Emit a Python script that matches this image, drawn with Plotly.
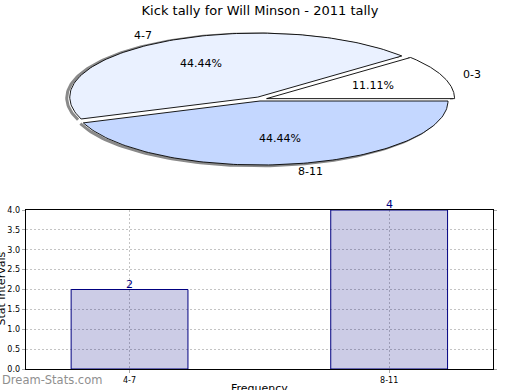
import numpy as np
import plotly.graph_objects as go

# ---- data ----
title_text = "Kick tally for Will Minson - 2011 tally"
pie_labels = ["0-3", "4-7", "8-11"]
pie_values = [1, 4, 4]
bar_categories = ["4-7", "8-11"]
bar_values = [2, 4]
y_axis_title = "Stat Intervals"
x_axis_title = "Frequency"
watermark = "Dream-Stats.com"

# ---- styles ----
pie_fill = ["#ffffff", "#eaf1ff", "#c4d7ff"]
pie_explode = [7, 4.5, 0]          # pixels
FONT = "DejaVu Sans"
W, H = 520, 390

fig = go.Figure()

# ---- pie (elliptical, drawn on a pixel-scaled axis) ----
cx, cy, rx, ry = 260, 101, 188, 64
total = float(sum(pie_values))
cum = 0.0
slices = []
for lab, val, col, ex in zip(pie_labels, pie_values, pie_fill, pie_explode):
    a0 = cum / total * 2 * np.pi
    cum += val
    a1 = cum / total * 2 * np.pi
    mid = (a0 + a1) / 2
    ox, oy = ex * np.cos(mid), -ex * np.sin(mid)
    t = np.linspace(a0, a1, 120)
    ax_ = cx + ox + rx * np.cos(t)
    ay_ = cy + oy - ry * np.sin(t)
    xs = np.concatenate([[cx + ox], ax_, [cx + ox]])
    ys = np.concatenate([[cy + oy], ay_, [cy + oy]])
    slices.append((lab, val, col, mid, ox, oy, xs, ys, ax_, ay_))

# shadows along the outer arcs
for lab, val, col, mid, ox, oy, xs, ys, ax_, ay_ in slices:
    fig.add_trace(go.Scatter(x=ax_ - 3, y=ay_ + 0.8, mode="lines",
                             line=dict(color="#8a8a8a", width=3),
                             hoverinfo="skip", xaxis="x2", yaxis="y2"))
# slices
for lab, val, col, mid, ox, oy, xs, ys, ax_, ay_ in slices:
    fig.add_trace(go.Scatter(x=xs, y=ys, mode="lines", fill="toself",
                             fillcolor=col, line=dict(color="#000000", width=0.9),
                             hoverinfo="skip", xaxis="x2", yaxis="y2"))

annotations = []
for lab, val, col, mid, ox, oy, xs, ys, ax_, ay_ in slices:
    c, s = np.cos(mid), np.sin(mid)
    annotations.append(dict(
        x=cx + ox + 1.1 * rx * c, y=cy + oy - 1.12 * ry * s, xref="x2", yref="y2",
        text=lab, showarrow=False, xanchor="left" if c >= 0 else "right",
        yanchor="middle", font=dict(family=FONT, size=11, color="#000")))
    annotations.append(dict(
        x=cx + ox + 0.6 * rx * c, y=cy + oy - 0.6 * ry * s, xref="x2", yref="y2",
        text=f"{val / total * 100:.2f}%", showarrow=False, xanchor="center",
        yanchor="middle", font=dict(family=FONT, size=11, color="#000")))

# ---- bar chart ----
fig.add_trace(go.Bar(
    x=bar_categories, y=bar_values, width=0.45,
    marker=dict(color="rgba(0,0,128,0.2)", line=dict(color="#000080", width=1)),
    hoverinfo="skip", xaxis="x", yaxis="y"))

for cat, v in zip(bar_categories, bar_values):
    annotations.append(dict(x=cat, y=v, xref="x", yref="y", text=str(v), showarrow=False,
                            xanchor="center", yanchor="bottom", yshift=-3,
                            font=dict(family=FONT, size=11, color="#000080")))

annotations += [
    dict(x=0.5 / W, y=(H - 289) / H, xref="paper", yref="paper", text=y_axis_title,
         textangle=-90, showarrow=False, xanchor="center", yanchor="middle",
         font=dict(family=FONT, size=11, color="#000")),
    dict(x=259 / W, y=1.5 / H, xref="paper", yref="paper", text=x_axis_title,
         showarrow=False, xanchor="center", yanchor="middle",
         font=dict(family=FONT, size=11, color="#000")),
    dict(x=0, y=(H - 380) / H, xref="paper", yref="paper", text=watermark,
         showarrow=False, xanchor="left", yanchor="middle",
         font=dict(family=FONT, size=11.5, color="#8f8f8f")),
]

grid = dict(showgrid=True, gridcolor="#c4c4c4", griddash="2px,2px", gridwidth=1)
fig.update_layout(
    width=W, height=H, margin=dict(l=0, r=0, t=0, b=0, autoexpand=False),
    paper_bgcolor="white", plot_bgcolor="rgba(0,0,0,0)", showlegend=False,
    title=dict(text=title_text, x=0.5, xanchor="center", y=1 - 10 / H, yanchor="middle",
               yref="container", font=dict(family=FONT, size=13, color="#000")),
    xaxis=dict(domain=[25.7 / W, 493 / W], range=[-0.4, 1.4], type="category",
               showline=True, linecolor="#000", linewidth=1, mirror=True, automargin=False,
               ticks="outside", ticklen=3, tickcolor="#aaa", zeroline=False,
               tickfont=dict(family=FONT, size=8, color="#000"), anchor="y", **grid),
    yaxis=dict(domain=[(H - 369) / H, (H - 210) / H], range=[0, 4], dtick=0.5,
               tickformat=".1f", showline=True, linecolor="#000", linewidth=1,
               mirror="ticks", ticks="outside", ticklen=3, tickcolor="#aaa", automargin=False,
               zeroline=False, tickfont=dict(family=FONT, size=8, color="#000"),
               anchor="x", **grid),
    xaxis2=dict(domain=[0, 1], range=[0, W], visible=False, anchor="y2", fixedrange=True),
    yaxis2=dict(domain=[(H - 195) / H, 1], range=[195, 0], visible=False, anchor="x2",
                fixedrange=True),
    annotations=annotations,
)

fig.write_html("out.html", config={"displayModeBar": False},
               post_script="document.body.style.margin='0';")
